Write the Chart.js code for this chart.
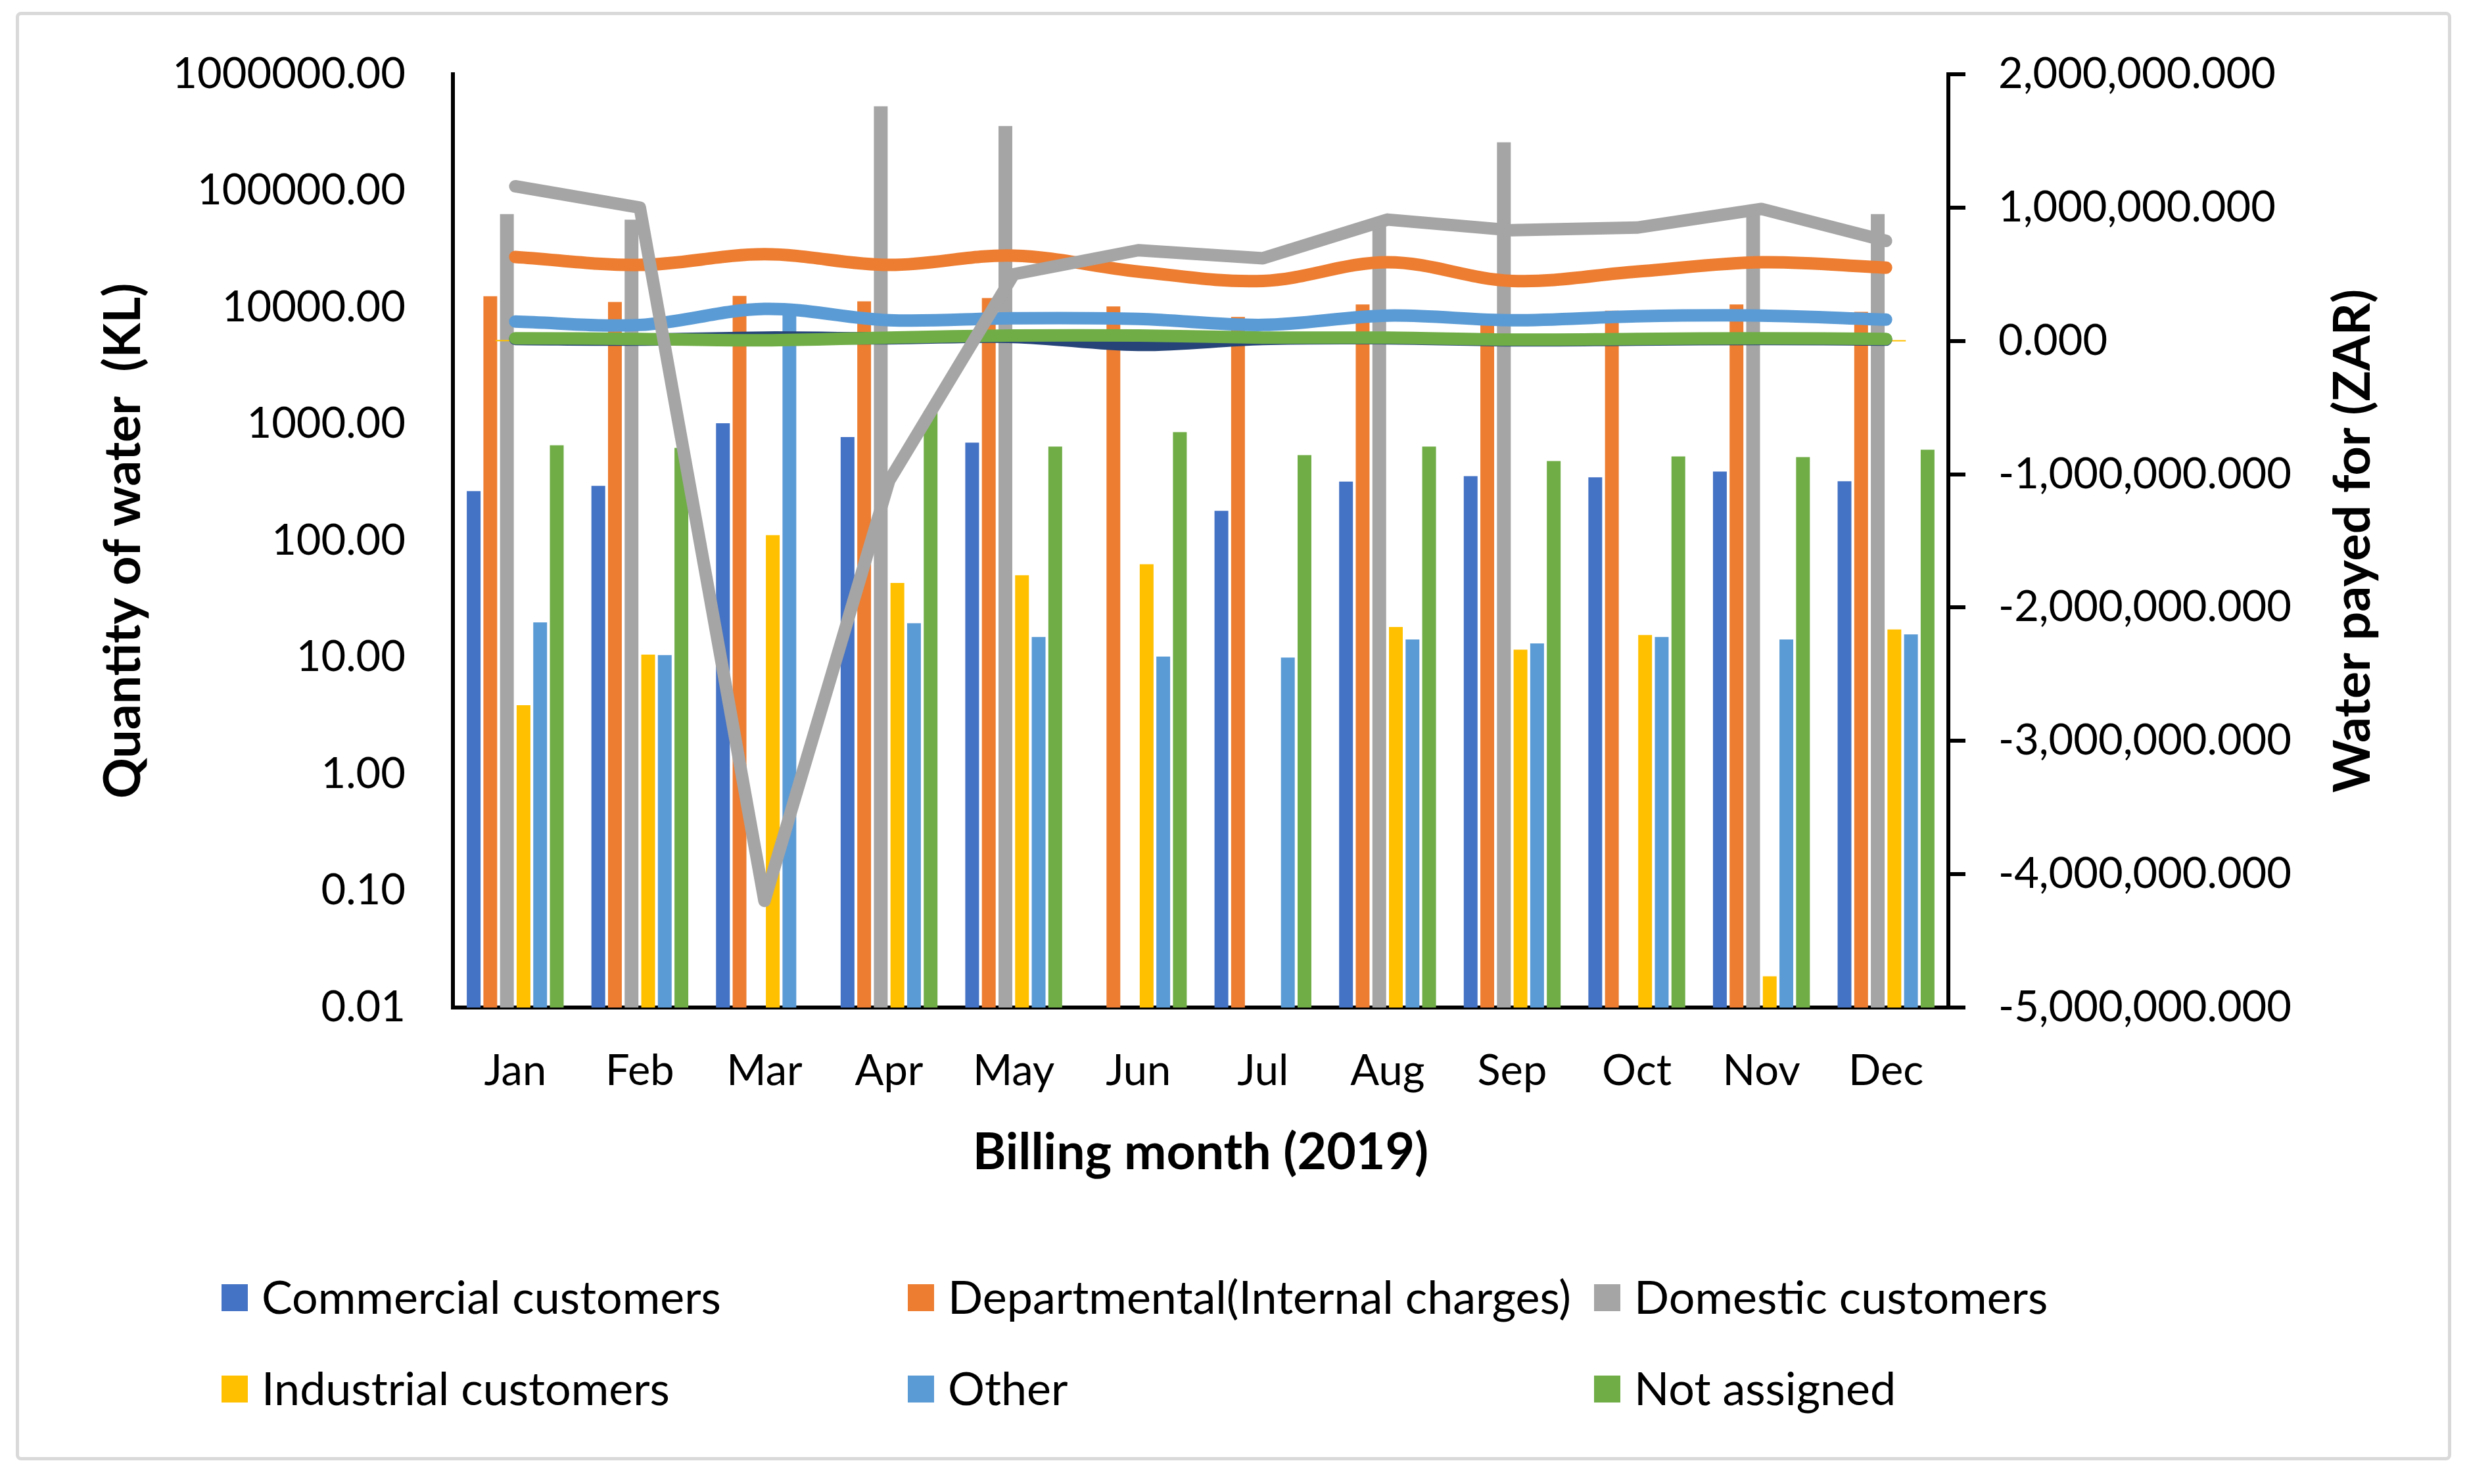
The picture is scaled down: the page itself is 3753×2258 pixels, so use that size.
<!DOCTYPE html>
<html>
<head>
<meta charset="utf-8">
<script src="https://cdn.jsdelivr.net/npm/chart.js@4.4.1/dist/chart.umd.min.js"></script>
<style>
html,body{margin:0;padding:0;background:#fff;}
#wrap{position:relative;width:3753px;height:2258px;overflow:hidden;}
#c{position:absolute;left:0;top:0;}
#frame{position:absolute;left:24px;top:18px;width:3695px;height:2194px;border:5px solid #d9d9d9;border-radius:8px;pointer-events:none;}
</style>
</head>
<body>
<div id="wrap"><canvas id="c" width="3753" height="2258"></canvas><div id="frame"></div></div>
<script>
// ---- data ----
const months = ['Jan','Feb','Mar','Apr','May','Jun','Jul','Aug','Sep','Oct','Nov','Dec'];
const seriesNames = ['Commercial customers','Departmental(Internal charges)','Domestic customers','Industrial customers','Other','Not assigned'];

// Quantity of water (KL) - bars, left log axis
const qtyCommercial   = [267, 296, 1019, 776, 695, null, 181, 322, 359, 351, 393, 325];
const qtyDepartmental = [12500, 11150, 12600, 11300, 12050, 10240, 8300, 10630, 7960, 9400, 10630, 9180];
const qtyDomestic     = [63400, 56700, null, 531000, 360000, null, null, 56000, 261000, null, 65000, 63400];
const qtyIndustrial   = [3.9, 10.6, 112, 43.6, 50.7, 63, null, 18.3, 11.7, 15.6, 0.0185, 17.4];
const qtyOther        = [20, 10.5, 9000, 19.7, 15, 10.2, 10.0, 14.3, 13.2, 15.0, 14.3, 15.8];
const qtyNotAssigned  = [661, 627, null, 1300, 644, 856, 544, 644, 484, 530, 523, 605];

// Water payed for (ZAR) - lines, right axis
const payCommercial   = [0.015e6, 0.010e6, 0.025e6, 0.020e6, 0.030e6, -0.030e6, 0.015e6, 0.020e6, 0.005e6, 0.010e6, 0.015e6, 0.010e6];
const payDepartmental = [0.63e6, 0.57e6, 0.65e6, 0.57e6, 0.64e6, 0.52e6, 0.45e6, 0.59e6, 0.45e6, 0.52e6, 0.59e6, 0.55e6];
const payDomestic     = [1.16e6, 1.00e6, -4.20e6, -1.05e6, 0.50e6, 0.68e6, 0.62e6, 0.91e6, 0.83e6, 0.85e6, 0.99e6, 0.75e6];
const payIndustrial   = [0.002e6, 0.001e6, 0.003e6, 0.002e6, 0.002e6, 0.002e6, 0.000e6, 0.002e6, 0.001e6, 0.001e6, 0.000e6, 0.001e6];
const payOther        = [0.145e6, 0.120e6, 0.240e6, 0.155e6, 0.170e6, 0.165e6, 0.120e6, 0.190e6, 0.155e6, 0.185e6, 0.190e6, 0.160e6];
const payNotAssigned  = [0.020e6, 0.015e6, 0.005e6, 0.025e6, 0.040e6, 0.040e6, 0.025e6, 0.025e6, 0.010e6, 0.015e6, 0.020e6, 0.015e6];

// tick labels
const qtyTicks = [0.01, 0.1, 1, 10, 100, 1000, 10000, 100000, 1000000];
const payMin = -5e6, payMax = 2e6, payStep = 1e6;

const barColors  = ['#4472C4','#ED7D31','#A5A5A5','#FFC000','#5B9BD5','#70AD47'];
const lineColors = ['#264478','#ED7D31','#A5A5A5','#FFC000','#5B9BD5','#70AD47'];

const qtySeries = [qtyCommercial, qtyDepartmental, qtyDomestic, qtyIndustrial, qtyOther, qtyNotAssigned];
const paySeries = [payCommercial, payDepartmental, payDomestic, payIndustrial, payOther, payNotAssigned];
const lineOrder = [4, 3, 0, 5, 2, 1];

function fmt3(v){
  const neg = v < 0;
  const s = Math.abs(v).toFixed(3);
  let [i, d] = s.split('.');
  i = i.replace(/\B(?=(\d{3})+(?!\d))/g, ',');
  return (neg ? '-' : '') + i + '.' + d;
}

const FONT = 'Lato';

const datasets = [];
qtySeries.forEach((arr, k) => {
  datasets.push({
    type: 'bar', label: seriesNames[k], data: arr, yAxisID: 'y',
    backgroundColor: barColors[k], borderWidth: 0,
    categoryPercentage: 0.8, barPercentage: 0.83, order: 10 + k
  });
});
paySeries.forEach((arr, k) => {
  const isInd = k === 3;
  datasets.push({
    type: 'line', label: seriesNames[k] + ' (ZAR)', data: arr, yAxisID: 'y2',
    borderColor: lineColors[k], backgroundColor: lineColors[k],
    borderWidth: isInd ? 2 : 19,
    tension: k === 2 ? 0 : 0.35,
    borderCapStyle: 'round', borderJoinStyle: 'round',
    pointRadius: isInd ? 30 : 0, pointStyle: 'line',
    pointBorderWidth: 2, pointBorderColor: lineColors[k],
    pointHoverRadius: 0, fill: false, order: lineOrder[k]
  });
});

const extraPlugin = {
  id: 'extras',
  afterDraw(chart) {
    const ctx = chart.ctx;
    const ca = chart.chartArea;
    ctx.save();
    // right axis title, reading bottom-to-top
    ctx.translate(3580, (ca.top + ca.bottom) / 2);
    ctx.rotate(-Math.PI / 2);
    ctx.font = 'bold 77px ' + FONT;
    ctx.fillStyle = '#000';
    ctx.textAlign = 'center';
    ctx.textBaseline = 'middle';
    ctx.fillText('Water payed for (ZAR)', 0, 0);
    ctx.restore();

    // legend grid (3 columns x 2 rows)
    ctx.save();
    ctx.font = '70px ' + FONT;
    ctx.textBaseline = 'middle';
    ctx.textAlign = 'left';
    seriesNames.forEach((name, i) => {
      const col = i % 3, row = Math.floor(i / 3);
      const x = 337 + col * 1044;
      const y = 1974 + row * 139;
      ctx.fillStyle = barColors[i];
      ctx.fillRect(x, y - 20, 40, 41);
      ctx.fillStyle = '#000';
      ctx.fillText(name, x + 61, y + 2);
    });
    ctx.restore();
  }
};

function build() {
  new Chart(document.getElementById('c'), {
    data: { labels: months, datasets },
    plugins: [extraPlugin],
    options: {
      responsive: false, devicePixelRatio: 1, animation: false,
      layout: { padding: { top: 113, left: 0, right: 0, bottom: 0 } },
      plugins: { legend: { display: false }, tooltip: { enabled: false } },
      scales: {
        x: {
          type: 'category', offset: true,
          grid: { display: false, drawTicks: false },
          border: { display: true, color: '#000', width: 6 },
          ticks: { color: '#000', font: { family: FONT, size: 65 }, padding: 58, maxRotation: 0, autoSkip: false },
          title: { display: true, text: 'Billing month (2019)', color: '#000',
                   font: { family: FONT, size: 77, weight: 'bold' }, padding: { top: 0, bottom: 458 } },
          afterFit(s) { s.height = 725; }
        },
        y: {
          type: 'logarithmic', position: 'left', min: 0.01, max: 1000000,
          grid: { display: false, drawTicks: false },
          border: { display: true, color: '#000', width: 6 },
          afterBuildTicks(s) { s.ticks = qtyTicks.map(v => ({ value: v })); },
          ticks: { color: '#000', font: { family: FONT, size: 65 }, padding: 72,
                   callback: (v) => Number(v).toFixed(2) },
          title: { display: true, text: 'Quantity of water  (KL)', color: '#000',
                   font: { family: FONT, size: 77, weight: 'bold' }, padding: { top: 142, bottom: 0 } },
          afterFit(s) { s.width = 689; }
        },
        y2: {
          type: 'linear', position: 'right', min: payMin, max: payMax,
          grid: { display: true, drawOnChartArea: false, drawTicks: true, tickLength: 26, color: '#000', lineWidth: 6 },
          border: { display: true, color: '#000', width: 6 },
          ticks: { stepSize: payStep, color: '#000', font: { family: FONT, size: 65 }, padding: 50,
                   callback: (v) => fmt3(v) },
          title: { display: false },
          afterFit(s) { s.width = 789; }
        }
      }
    }
  });
}

if (document.fonts && document.fonts.load) {
  Promise.all([document.fonts.load('65px Lato'), document.fonts.load('bold 77px Lato')]).then(build, build);
} else { build(); }
</script>
</body>
</html>
